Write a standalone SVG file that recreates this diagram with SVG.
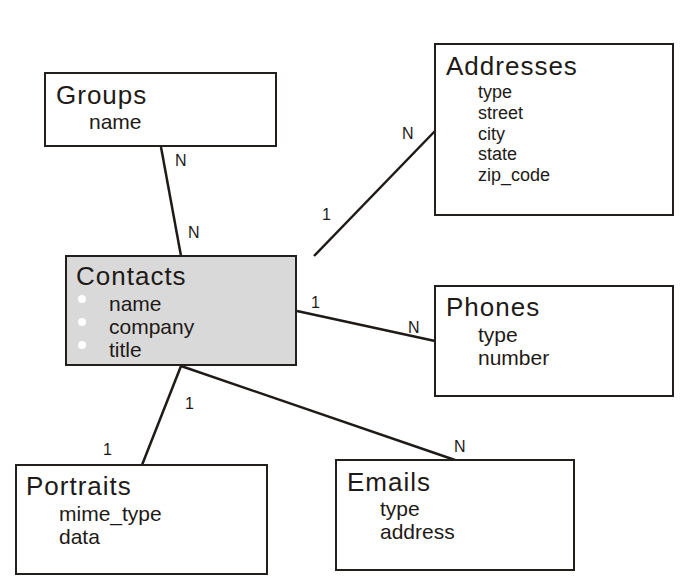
<svg xmlns="http://www.w3.org/2000/svg" width="680" height="581" viewBox="0 0 680 581">
<style>
.box{fill:#fff;stroke:#231f1c;stroke-width:2}
.hl{fill:#d9d9d9}
.title{font-family:"Liberation Sans",Arial,sans-serif;font-size:26px;letter-spacing:1px;fill:#1e1a17}
.attr{font-family:"Liberation Sans",Arial,sans-serif;font-size:21px;fill:#1e1a17}
.attr.sm{font-size:18px}
.lbl{font-family:"Liberation Sans",Arial,sans-serif;font-size:16px;fill:#1e1a17}
.conn line{stroke:#1e1a17;stroke-width:2.5}
.dot{fill:#fff}
</style>
<rect width="680" height="581" fill="#fff"/>
<g id="connectors" class="conn">
<line x1="161" y1="147" x2="181" y2="256"/>
<line x1="314" y1="256" x2="435" y2="131"/>
<line x1="297" y1="311" x2="435" y2="341"/>
<line x1="181" y1="366" x2="455" y2="460"/>
<line x1="181" y1="366" x2="142" y2="465"/>
</g>
<g id="labels">
<text class="lbl" x="175" y="166">N</text>
<text class="lbl" x="188" y="238">N</text>
<text class="lbl" x="402" y="139">N</text>
<text class="lbl" x="322" y="220">1</text>
<text class="lbl" x="311" y="308">1</text>
<text class="lbl" x="408" y="333">N</text>
<text class="lbl" x="185" y="409">1</text>
<text class="lbl" x="103" y="455">1</text>
<text class="lbl" x="454" y="452">N</text>
</g>
<g id="groups">
<rect class="box" x="45" y="73" width="231" height="73"/>
<text class="title" x="56" y="104">Groups</text>
<text class="attr" x="89" y="129">name</text>
</g>
<g id="addresses">
<rect class="box" x="435" y="44" width="238" height="171"/>
<text class="title" x="446" y="75">Addresses</text>
<text class="attr sm" x="478" y="98">type</text>
<text class="attr sm" x="478" y="119">street</text>
<text class="attr sm" x="478" y="140">city</text>
<text class="attr sm" x="478" y="160">state</text>
<text class="attr sm" x="478" y="181">zip_code</text>
</g>
<g id="contacts">
<rect class="box hl" x="66" y="256" width="230" height="109"/>
<text class="title" x="76" y="285">Contacts</text>
<circle class="dot" cx="82" cy="299" r="4"/>
<circle class="dot" cx="82" cy="322" r="4"/>
<circle class="dot" cx="82" cy="345" r="4"/>
<text class="attr" x="109" y="311">name</text>
<text class="attr" x="109" y="334">company</text>
<text class="attr" x="109" y="357">title</text>
</g>
<g id="phones">
<rect class="box" x="435" y="286" width="238" height="110"/>
<text class="title" x="446" y="316">Phones</text>
<text class="attr" x="478" y="342">type</text>
<text class="attr" x="478" y="365">number</text>
</g>
<g id="portraits">
<rect class="box" x="16" y="465" width="251" height="109"/>
<text class="title" x="26" y="495">Portraits</text>
<text class="attr" x="59" y="521">mime_type</text>
<text class="attr" x="59" y="544">data</text>
</g>
<g id="emails">
<rect class="box" x="336" y="460" width="238" height="110"/>
<text class="title" x="347" y="491">Emails</text>
<text class="attr" x="380" y="516">type</text>
<text class="attr" x="380" y="539">address</text>
</g>
</svg>
